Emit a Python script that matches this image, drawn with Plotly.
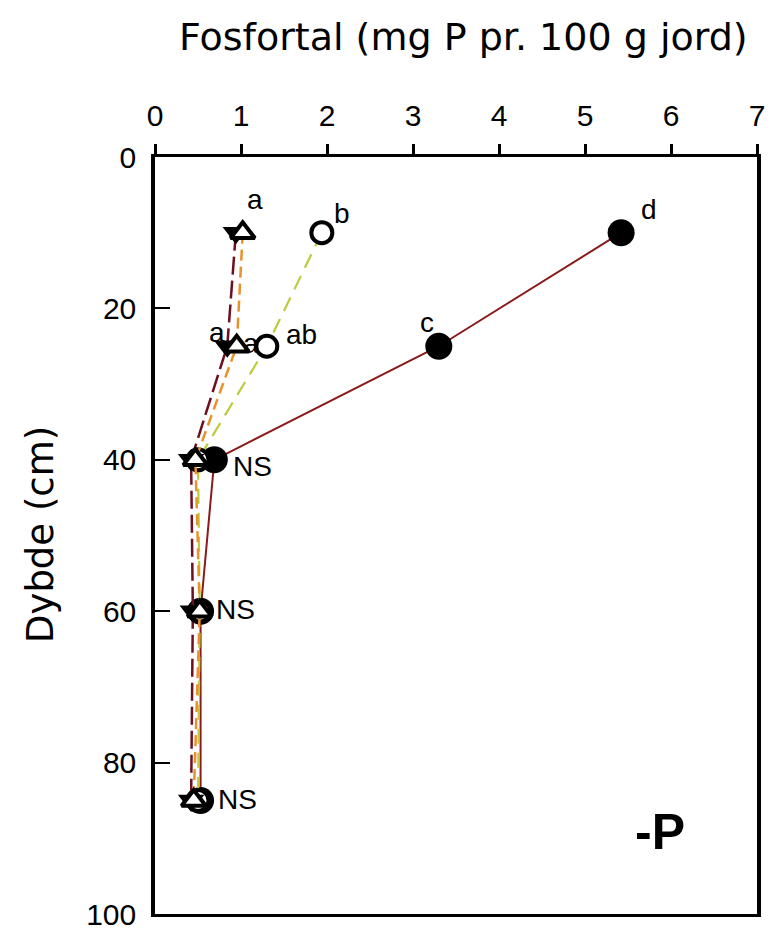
import plotly.graph_objects as go

depth = [10, 25, 40, 60, 85]
p_filled_circle = [5.42, 3.30, 0.69, 0.53, 0.53]
p_open_circle = [1.94, 1.30, 0.50, 0.52, 0.50]
p_open_triangle = [1.02, 0.95, 0.47, 0.52, 0.45]
p_down_triangle = [0.94, 0.84, 0.42, 0.44, 0.42]

x_ticks = [0, 1, 2, 3, 4, 5, 6, 7]
y_ticks = [0, 20, 40, 60, 80, 100]

# significance letters: (text, series values, index, xshift, yshift)
letters = [
    ("d", p_filled_circle, 0, 28, 23),
    ("c", p_filled_circle, 1, -12, 24),
    ("b", p_open_circle, 0, 20, 19),
    ("ab", p_open_circle, 1, 35, 12),
    ("a", p_open_triangle, 0, 12, 33),
    ("a", p_open_triangle, 1, 14, 3),
    ("a", p_down_triangle, 1, -10, 14),
    ("NS", p_filled_circle, 2, 38, -7),
    ("NS", p_open_triangle, 3, 36, 2),
    ("NS", p_filled_circle, 4, 37, 1),
]

FONT = "Arial, Liberation Sans, sans-serif"
TITLE_FONT = "DejaVu Sans, Arial, sans-serif"

fig = go.Figure()

fig.add_trace(go.Scatter(
    x=p_filled_circle, y=depth, mode="lines+markers",
    line=dict(color="#8b1a1a", width=2),
    marker=dict(symbol="circle", size=27, color="black"),
    showlegend=False))
fig.add_trace(go.Scatter(
    x=p_open_circle, y=depth, mode="lines+markers",
    line=dict(color="#bccb3a", width=2.2, dash="15px,9px"),
    marker=dict(symbol="circle", size=21, color="white", line=dict(color="black", width=4)),
    showlegend=False))
fig.add_trace(go.Scatter(
    x=p_down_triangle, y=depth, mode="lines+markers",
    line=dict(color="#6e1020", width=2.5, dash="18px,6px"),
    marker=dict(symbol="triangle-down", size=23, color="black"),
    showlegend=False))
fig.add_trace(go.Scatter(
    x=p_open_triangle, y=depth, mode="lines+markers",
    line=dict(color="#e8922c", width=2.5, dash="11px,6px"),
    marker=dict(symbol="triangle-up", size=21, color="white", line=dict(color="black", width=4)),
    showlegend=False))

for text, series, i, dx, dy in letters:
    fig.add_annotation(x=series[i], y=depth[i], text=text, showarrow=False,
                       xshift=dx, yshift=dy, xanchor="center", yanchor="middle",
                       font=dict(family=FONT, size=28, color="black"))

# plot area in page pixels (page has an 8px body margin)
left, right, top, bottom = 155, 757, 157, 914
plot_w = right - left
plot_h = bottom - top

fig.add_annotation(x=(660 - left) / plot_w, y=(bottom - 832) / plot_h, xref="paper", yref="paper",
                   xanchor="center", yanchor="middle",
                   text="<b>-P</b>", showarrow=False,
                   font=dict(family=FONT, size=50, color="black"))

fig.add_annotation(x=(463 - left) / plot_w, y=1 + (top - 37) / plot_h, xref="paper", yref="paper",
                   xanchor="center", yanchor="middle",
                   text="Fosfortal (mg P pr. 100 g jord)", showarrow=False,
                   font=dict(family=TITLE_FONT, size=38, color="black"))

fig.add_annotation(x=(40 - left) / plot_w, y=(bottom - 535) / plot_h, xref="paper", yref="paper",
                   xanchor="center", yanchor="middle", textangle=-90,
                   text="Dybde (cm)", showarrow=False,
                   font=dict(family=TITLE_FONT, size=37, color="black"))

W, H = 769, 921
fig.update_layout(
    width=W, height=H,
    margin=dict(l=left - 8, r=W - (right - 8), t=top - 8, b=H - (bottom - 8), autoexpand=False),
    paper_bgcolor="white", plot_bgcolor="white",
    font=dict(family=FONT, color="black"),
    xaxis=dict(side="top", range=[0, 7], tickvals=x_ticks, ticks="outside", ticklen=10,
               tickwidth=2.5, tickcolor="black", showline=True, linecolor="black",
               linewidth=3, mirror=True, showgrid=False, zeroline=False,
               tickfont=dict(size=30), ticklabelstandoff=6, ticklabeloverflow="allow"),
    yaxis=dict(range=[100, 0], tickvals=y_ticks, ticks="inside", ticklen=15,
               tickwidth=2, tickcolor="black", showline=True, linecolor="black",
               linewidth=3.5, mirror=True, showgrid=False, zeroline=False,
               tickfont=dict(size=30), ticklabelstandoff=9, ticklabeloverflow="allow"),
)

fig.write_html("out.html")
